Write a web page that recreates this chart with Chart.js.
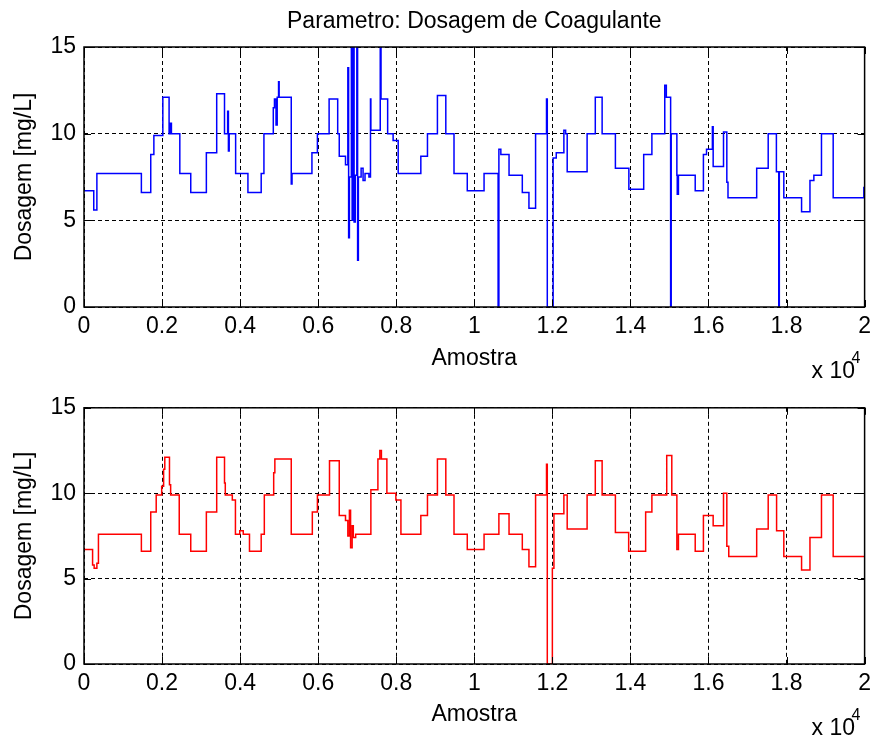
<!DOCTYPE html>
<html lang="pt">
<head>
  <meta charset="UTF-8">
  <title>Parametro: Dosagem de Coagulante</title>
  <script src="https://cdn.jsdelivr.net/npm/chart.js"></script>
  <style>
    body {
      margin: 0;
      background: #ffffff;
    }
    .figure {
      position: relative;
      width: 877px;
      height: 742px;
    }
    #topChart { position: absolute; left: 0; top: 0; }
    #bottomChart { position: absolute; left: 0; top: 386px; }
  </style>
</head>
<body>
  <div class="figure">
    <canvas id="topChart" width="877" height="386"></canvas>
    <canvas id="bottomChart" width="877" height="356"></canvas>
  </div>

  <script>
    // sample index where each level starts, and the level (mg/L) - upper plot
    const blueX = [0, 250, 330, 1470, 1710, 1790, 2020, 2180, 2210, 2240, 2455, 2735, 3135, 3400, 3600, 3680, 3700, 3720,
      3885, 4200, 4540, 4610, 4850, 4880, 4920, 4950, 4985, 5000, 5310, 5330, 5840, 5980, 6280, 6500, 6540, 6700,
      6760, 6780, 6800, 6850, 6870, 6900, 6920, 6950, 6990, 7010, 7030, 7100, 7150, 7200, 7300, 7340, 7350, 7590, 7610,
      7780, 7920, 8050, 8630, 8800, 9055, 9270, 9480, 9820, 10250, 10610, 10630, 10680, 10890, 11230, 11400, 11570,
      11850, 11870, 12020, 12100, 12295, 12340, 12380, 12890, 13100, 13275, 13615, 13960, 14340, 14550, 14880, 14920,
      15030, 15045, 15190, 15200, 15230, 15660, 15870, 15950, 16100, 16120, 16385, 16470, 16500, 17235, 17530, 17740,
      17800, 17815, 17930, 18385, 18600, 18700, 18895, 19195, 19980, 19995, 20000];
    const blueY = [6.7, 5.6, 7.7, 6.6, 8.8, 9.9, 12.1, 10.0, 10.6, 10.0, 7.7, 6.6, 8.9, 12.3, 10.0, 11.3, 9.0, 10.0,
      7.7, 6.6, 7.7, 10.0, 11.5, 12.0, 10.5, 12.1, 13.0, 12.1, 7.1, 7.7, 8.9, 10.0, 12.0, 10.0, 8.7, 8.2,
      13.8, 4.0, 7.5, 15.0, 5.0, 15.0, 4.9, 7.6, 15.0, 2.7, 7.5, 8.0, 7.3, 7.7, 7.5, 12.0, 10.2, 15.0, 12.0,
      10.0, 9.6, 7.7, 8.7, 10.0, 12.2, 10.0, 7.7, 6.7, 7.7, 0, 9.1, 8.8, 7.6, 6.6, 5.7, 10.0,
      12.0, 0, 8.6, 8.9, 10.2, 10.0, 7.8, 10.0, 12.1, 10.0, 8.0, 6.8, 8.8, 10.0, 12.8, 12.1,
      0, 10.0, 7.6, 6.5, 7.6, 6.7, 8.8, 9.1, 10.4, 8.1, 10.1, 7.2, 6.3, 8.0, 10.0, 7.8,
      0, 7.8, 6.3, 5.5, 7.3, 7.6, 10.0, 6.3, 6.9, 6.3, 6.3];

    // lower plot
    const redX = [0, 220, 260, 330, 370, 1470, 1710, 1850, 1990, 2040, 2070, 2190, 2220, 2440, 2735, 3135, 3400, 3600,
      3620, 3800, 3880, 3990, 4080, 4240, 4540, 4620, 4860, 4890, 5310, 5850, 5980, 6290, 6540, 6700, 6760, 6800,
      6830, 6870, 6900, 6960, 7350, 7530, 7580, 7620, 7760, 7990, 8120, 8630, 8800, 9055, 9270, 9480, 9820, 10250,
      10630, 10890, 11230, 11400, 11570, 11850, 11870, 12000, 12040, 12295, 12380, 12890, 13100, 13275, 13615, 13955,
      14390, 14550, 14930, 15060, 15190, 15230, 15660, 15870, 16120, 16385, 16470, 16520, 17235, 17530, 17745, 17930,
      18385, 18600, 18895, 19195, 20000];
    const redY = [6.7, 5.8, 5.6, 5.9, 7.6, 6.6, 8.9, 9.9, 10.4, 11.4, 12.1, 10.5, 9.9, 7.6, 6.6, 8.9, 12.1, 10.6,
      9.9, 9.6, 7.6, 7.8, 7.6, 6.6, 7.6, 9.9, 11.2, 12.0, 7.6, 8.9, 9.9, 11.9, 8.7, 8.4, 7.5, 9.0,
      6.8, 8.1, 7.4, 7.6, 10.2, 12.0, 12.5, 12.0, 10.0, 9.6, 7.6, 8.7, 9.9, 12.0, 9.9, 7.6, 6.7, 7.6,
      8.8, 7.6, 6.7, 5.7, 9.9, 11.7, 0, 5.6, 8.8, 9.9, 7.9, 9.9, 11.9, 9.9, 7.7, 6.6,
      8.9, 9.9, 12.2, 9.9, 6.7, 7.6, 6.6, 8.7, 8.1, 10.0, 6.9, 6.3, 7.9, 9.9, 7.8, 6.3,
      5.5, 7.4, 9.9, 6.3, 6.3];

    const xTicks = [0, 2000, 4000, 6000, 8000, 10000, 12000, 14000, 16000, 18000, 20000];
    const xTickLabels = ['0', '0.2', '0.4', '0.6', '0.8', '1', '1.2', '1.4', '1.6', '1.8', '2'];
    const yTicks = [0, 5, 10, 15];

    const FONT = '"Liberation Sans", Arial, Helvetica, sans-serif';

    // matlab style frame, inner tick marks and the "x 10^4" exponent
    const boxPlugin = {
      id: 'matlabBox',
      afterDatasetsDraw(chart) {
        const { ctx, chartArea: a, scales } = chart;
        ctx.save();
        ctx.strokeStyle = '#000';
        ctx.lineWidth = 1;
        ctx.setLineDash([]);
        ctx.beginPath();
        xTicks.forEach(v => {
          const px = Math.round(scales.x.getPixelForValue(v)) + 0.5;
          ctx.moveTo(px, a.bottom); ctx.lineTo(px, a.bottom - 7);
          ctx.moveTo(px, a.top); ctx.lineTo(px, a.top + 7);
        });
        yTicks.forEach(v => {
          const py = Math.round(scales.y.getPixelForValue(v)) + 0.5;
          ctx.moveTo(a.left, py); ctx.lineTo(a.left + 7, py);
          ctx.moveTo(a.right, py); ctx.lineTo(a.right - 7, py);
        });
        ctx.stroke();
        ctx.lineWidth = 1.5;
        ctx.strokeRect(a.left, a.top, a.right - a.left, a.bottom - a.top);

        ctx.fillStyle = '#000';
        ctx.textAlign = 'left';
        ctx.textBaseline = 'alphabetic';
        ctx.font = '23px ' + FONT;
        ctx.fillText('x 10', a.right - 53, a.bottom + 71);
        ctx.font = '16px ' + FONT;
        ctx.fillText('4', a.right - 13, a.bottom + 56);
        ctx.restore();
      }
    };

    const titlePlugin = {
      id: 'figTitle',
      afterDraw(chart) {
        const { ctx, chartArea: a } = chart;
        ctx.save();
        ctx.fillStyle = '#000';
        ctx.font = '23px ' + FONT;
        ctx.textAlign = 'center';
        ctx.textBaseline = 'alphabetic';
        ctx.fillText('Parametro: Dosagem de Coagulante', (a.left + a.right) / 2, 28);
        ctx.restore();
      }
    };

    function makeChart(id, xs, ys, color, padTop, axisH, extra) {
      const points = xs.map((x, i) => ({ x: x, y: ys[i] }));
      return new Chart(document.getElementById(id), {
        type: 'line',
        data: {
          datasets: [{
            data: points,
            borderColor: color,
            borderWidth: 1.5,
            pointRadius: 0,
            stepped: 'before', // level holds until the next change point
            fill: false
          }]
        },
        options: {
          responsive: false,
          animation: false,
          layout: { padding: { top: padTop, right: 11, left: 0, bottom: 0 } },
          plugins: { legend: { display: false }, tooltip: { enabled: false } },
          scales: {
            x: {
              type: 'linear',
              min: 0,
              max: 20000,
              afterBuildTicks: s => { s.ticks = xTicks.map(v => ({ value: v })); },
              afterFit: s => { s.height = axisH; },
              grid: { color: '#000', lineWidth: 1, drawTicks: false },
              border: { display: false, dash: [4, 3] },
              ticks: {
                color: '#000',
                font: { family: FONT, size: 23 },
                padding: 6,
                maxRotation: 0,
                autoSkip: false,
                callback: (v, i) => xTickLabels[i]
              },
              title: {
                display: true,
                text: 'Amostra',
                color: '#000',
                font: { family: FONT, size: 23, lineHeight: 1 },
                padding: { top: 0, bottom: 16 }
              }
            },
            y: {
              min: 0,
              max: 15,
              afterBuildTicks: s => { s.ticks = yTicks.map(v => ({ value: v })); },
              afterFit: s => { s.width = 84; },
              grid: { color: '#000', lineWidth: 1, drawTicks: false },
              border: { display: false, dash: [4, 3] },
              ticks: {
                color: '#000',
                font: { family: FONT, size: 23 },
                padding: 8
              },
              title: {
                display: true,
                text: 'Dosagem [mg/L]',
                color: '#000',
                font: { family: FONT, size: 23, lineHeight: 1 },
                padding: { top: 13, bottom: 0 }
              }
            }
          }
        },
        plugins: [boxPlugin].concat(extra)
      });
    }

    makeChart('topChart', blueX, blueY, '#0000ff', 47, 79, [titlePlugin]);
    makeChart('bottomChart', redX, redY, '#ff0000', 17, 78, []);
  </script>
</body>
</html>
